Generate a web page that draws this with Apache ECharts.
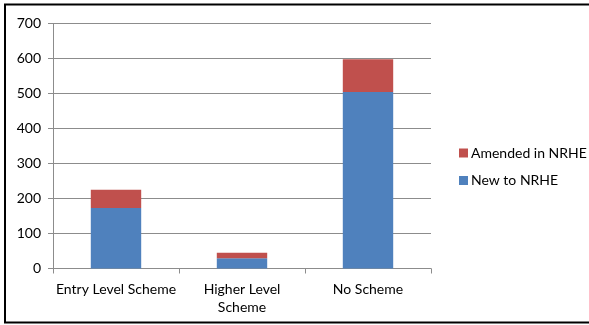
<!DOCTYPE html>
<html>
<head>
<meta charset="utf-8">
<script src="https://cdn.jsdelivr.net/npm/echarts@6/dist/echarts.min.js"></script>
<style>
  html, body { margin: 0; padding: 0; background: #fff; }
  #chart { width: 589px; height: 325px; }
</style>
</head>
<body>
<div id="chart"></div>
<script>
// data
const categories = ['Entry Level Scheme', 'Higher Level\nScheme', 'No Scheme']
const newToNrhe = [173, 29, 504]
const amendedInNrhe = [52, 16, 94]
const yTicks = [0, 100, 200, 300, 400, 500, 600, 700]

const font = 'Lato, "Open Sans", sans-serif'
const gridColor = '#8c8c8c'

const chart = echarts.init(document.getElementById('chart'))

const option = {
  animation: false,
  textStyle: { fontFamily: font },
  graphic: [
    {
      type: 'rect',
      shape: { x: 5, y: 4.5, width: 620, height: 318 },
      style: { fill: 'none', stroke: '#000', lineWidth: 2 },
      silent: true,
    },
  ],
  legend: {
    orient: 'vertical',
    left: 454,
    top: 140,
    itemWidth: 9,
    itemHeight: 9,
    itemGap: 11.5,
    icon: 'rect',
    data: ['Amended in NRHE', 'New to NRHE'],
    textStyle: { fontFamily: font, fontSize: 14, color: '#000', lineHeight: 16, padding: [0, 0, 0, -2] },
  },
  grid: { left: 53, right: 158, top: 23.5, bottom: 56.5, containLabel: false },
  xAxis: {
    type: 'category',
    data: categories,
    axisLine: { lineStyle: { color: gridColor, width: 1 } },
    axisTick: { show: true, length: 5, lineStyle: { color: gridColor } },
    axisLabel: { interval: 0, color: '#000', fontSize: 14, fontFamily: font, lineHeight: 18, margin: 12 },
  },
  yAxis: {
    type: 'value',
    min: yTicks[0],
    max: yTicks[yTicks.length - 1],
    interval: 100,
    axisLine: { show: true, lineStyle: { color: gridColor, width: 1 } },
    axisTick: { show: true, length: 5, lineStyle: { color: gridColor } },
    splitLine: { lineStyle: { color: gridColor, width: 1 } },
    axisLabel: { color: '#000', fontSize: 14, fontFamily: font, margin: 12 },
  },
  series: [
    {
      name: 'New to NRHE',
      type: 'bar',
      stack: 'total',
      barWidth: '40%',
      itemStyle: { color: '#4f81bd' },
      data: newToNrhe,
    },
    {
      name: 'Amended in NRHE',
      type: 'bar',
      stack: 'total',
      barWidth: '40%',
      itemStyle: { color: '#c0504d' },
      data: amendedInNrhe,
    },
  ],
}

chart.setOption(option)
</script>
</body>
</html>
